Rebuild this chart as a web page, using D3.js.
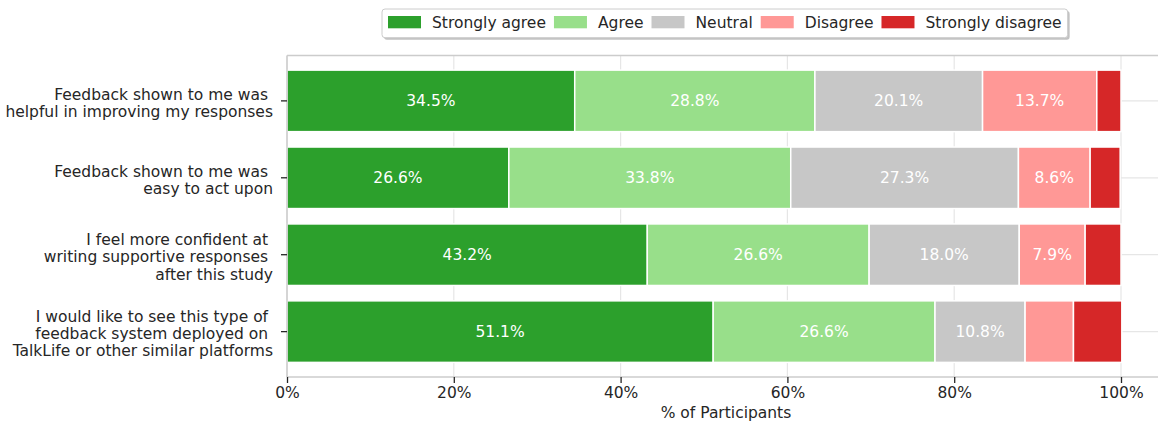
<!DOCTYPE html>
<html>
<head>
<meta charset="utf-8">
<script src="https://cdn.jsdelivr.net/npm/d3@7"></script>
<style>
  body { margin: 0; background: #fff; }
  svg { display: block; font-family: "DejaVu Sans", sans-serif; }
  text { white-space: pre; }
</style>
</head>
<body>
<svg width="1158" height="423"></svg>
<script>
// Likert survey results, stacked horizontal bars

var questions = [
	['Feedback shown to me was ', 'helpful in improving my responses'],
	['Feedback shown to me was ', 'easy to act upon'],
	['I feel more confident at ', 'writing supportive responses ', 'after this study'],
	['I would like to see this type of ', 'feedback system deployed on ', 'TalkLife or other similar platforms']
]
var seriesNames = ['Strongly agree', 'Agree', 'Neutral', 'Disagree', 'Strongly disagree']
var seriesColors = ['#2ca02c', '#98df8a', '#c7c7c7', '#ff9896', '#d62728']

var stronglyAgree = [34.5, 26.6, 43.2, 51.1]
var agree = [28.8, 33.8, 26.6, 26.6]
var neutral = [20.1, 27.3, 18.0, 10.8]
var disagree = [13.7, 8.6, 7.9, 5.8]
var stronglyDisagree = [2.9, 3.6, 4.3, 5.8]

var xTicks = [0, 20, 40, 60, 80, 100]

var svg = d3.select('svg')
var fontSize = 15.5
var textColor = '#262626'

var axLeft = 287, axTop = 55.5, axBottom = 377, axRight = 1165

var rows = questions.map(function(q, i) {
	return {
		id: i,
		'Strongly agree': stronglyAgree[i],
		'Agree': agree[i],
		'Neutral': neutral[i],
		'Disagree': disagree[i],
		'Strongly disagree': stronglyDisagree[i]
	}
})

var x = d3.scaleLinear().domain([0, 100]).range([axLeft, 1121])
var y = d3.scaleBand()
	.domain(d3.range(questions.length))
	.range([axTop, axBottom])
	.paddingInner(0.2)
	.paddingOuter(0.19)

var color = d3.scaleOrdinal().domain(seriesNames).range(seriesColors)

// grid
var grid = svg.append('g')
grid.selectAll('.vgrid')
	.data(xTicks)
	.enter()
	.append('line')
	.attr('x1', function(d) { return x(d) })
	.attr('x2', function(d) { return x(d) })
	.attr('y1', axTop)
	.attr('y2', axBottom)
	.attr('stroke', '#e6e6e6')
	.attr('stroke-width', 1.2)
grid.selectAll('.hgrid')
	.data(d3.range(questions.length))
	.enter()
	.append('line')
	.attr('x1', axLeft)
	.attr('x2', axRight)
	.attr('y1', function(d) { return y(d) + y.bandwidth() / 2 })
	.attr('y2', function(d) { return y(d) + y.bandwidth() / 2 })
	.attr('stroke', '#e6e6e6')
	.attr('stroke-width', 1.2)

// bars
var stack = d3.stack().keys(seriesNames)
var layers = stack(rows)

var layer = svg.append('g')
	.selectAll('.layer')
	.data(layers)
	.enter()
	.append('g')
	.attr('fill', function(d) { return color(d.key) })

layer.selectAll('rect')
	.data(function(d) { return d })
	.enter()
	.append('rect')
	.attr('x', function(d) { return x(d[0]) })
	.attr('width', function(d) { return x(d[1]) - x(d[0]) })
	.attr('y', function(d) { return y(d.data.id) })
	.attr('height', y.bandwidth())
	.attr('stroke', '#fff')
	.attr('stroke-width', 1.5)

layer.selectAll('.bar-label')
	.data(function(d) { return d.filter(function(s) { return s[1] - s[0] >= 7 }) })
	.enter()
	.append('text')
	.attr('class', 'bar-label')
	.attr('x', function(d) { return x((d[0] + d[1]) / 2) })
	.attr('y', function(d) { return y(d.data.id) + y.bandwidth() / 2 })
	.attr('dy', '0.36em')
	.attr('text-anchor', 'middle')
	.attr('fill', '#fff')
	.style('font-size', fontSize + 'px')
	.text(function(d) { return (d[1] - d[0]).toFixed(1) + '%' })

// spines
var spines = svg.append('g')
	.attr('stroke', '#cccccc')
	.attr('stroke-width', 1.5)
spines.append('line').attr('x1', axLeft).attr('x2', axRight).attr('y1', axTop).attr('y2', axTop)
spines.append('line').attr('x1', axLeft).attr('x2', axRight).attr('y1', axBottom).attr('y2', axBottom)
spines.append('line').attr('x1', axLeft).attr('x2', axLeft).attr('y1', axTop).attr('y2', axBottom)

// x axis
var xAxis = svg.append('g')
	.attr('transform', 'translate(0,' + axBottom + ')')
	.call(d3.axisBottom(x)
		.tickValues(xTicks)
		.tickFormat(function(d) { return d + '%' })
		.tickSize(6)
		.tickPadding(4))
xAxis.select('.domain').remove()
xAxis.selectAll('.tick line').attr('stroke', textColor).attr('stroke-width', 1.3)
xAxis.selectAll('.tick text')
	.attr('fill', textColor)
	.style('font-size', fontSize + 'px')
	.style('font-family', '"DejaVu Sans", sans-serif')

svg.append('text')
	.attr('x', (axLeft + axRight) / 2)
	.attr('y', 418)
	.attr('text-anchor', 'middle')
	.attr('fill', textColor)
	.style('font-size', fontSize + 'px')
	.text('% of Participants')

// y axis
var yTicks = svg.append('g')
	.selectAll('.ytick')
	.data(questions)
	.enter()
	.append('g')
	.attr('transform', function(d, i) { return 'translate(0,' + (y(i) + y.bandwidth() / 2) + ')' })

yTicks.append('line')
	.attr('x1', axLeft - 6)
	.attr('x2', axLeft)
	.attr('stroke', textColor)
	.attr('stroke-width', 1.3)

yTicks.append('text')
	.attr('text-anchor', 'end')
	.attr('fill', textColor)
	.style('font-size', fontSize + 'px')
	.selectAll('tspan')
	.data(function(d) { return d.map(function(line, j) { return {line: line, j: j, n: d.length} }) })
	.enter()
	.append('tspan')
	.attr('x', 273)
	.attr('y', function(d) { return 7.5 + (d.j - (d.n - 1) / 2) * 17.3 })
	.text(function(d) { return d.line })

// legend
var legend = svg.append('g')
var lx = 388
var items = []
seriesNames.forEach(function(name) {
	var t = legend.append('text')
		.attr('y', 27.7)
		.attr('fill', textColor)
		.style('font-size', fontSize + 'px')
		.text(name)
	var w = t.node().getComputedTextLength()
	items.push({name: name, px: lx, tx: lx + 44, t: t})
	lx = lx + 44 + w + 8
})
var boxRight = lx - 8 + 6
legend.insert('rect', ':first-child')
	.attr('x', 384)
	.attr('y', 11)
	.attr('width', boxRight - 382)
	.attr('height', 28.7)
	.attr('rx', 3)
	.attr('fill', '#9a9a9a')
	.attr('opacity', 0.6)
legend.insert('rect', 'text')
	.attr('x', 382)
	.attr('y', 9)
	.attr('width', boxRight - 382)
	.attr('height', 28.7)
	.attr('rx', 3)
	.attr('fill', '#fff')
	.attr('stroke', '#cccccc')
	.attr('stroke-width', 1)
items.forEach(function(it) {
	legend.append('rect')
		.attr('x', it.px)
		.attr('y', 16)
		.attr('width', 33)
		.attr('height', 12.3)
		.attr('fill', color(it.name))
	it.t.attr('x', it.tx)
})
</script>
</body>
</html>
